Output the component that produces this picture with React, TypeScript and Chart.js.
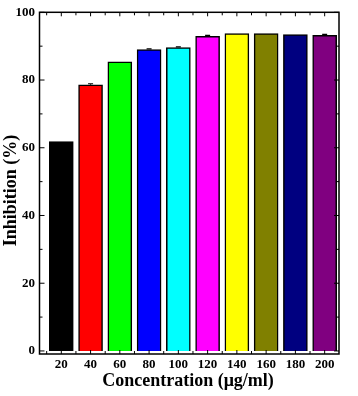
import React, { useEffect, useRef } from "react";
import { Chart, registerables } from "chart.js";

Chart.register(...registerables);

const concentrations = [20, 40, 60, 80, 100, 120, 140, 160, 180, 200];
const inhibition = [61.8, 78.6, 85.4, 89.0, 89.6, 92.9, 93.7, 93.7, 93.4, 93.2];
const errors = [0, 0.3, 0, 0.2, 0.2, 0.3, 0, 0, 0, 0.3];
const barColors = [
  "#000000", "#FF0000", "#00FF00", "#0000FF", "#00FFFF",
  "#FF00FF", "#FFFF00", "#808000", "#000080", "#800080",
];
const yTicks = [0, 20, 40, 60, 80, 100];
const yMinorTicks = [10, 30, 50, 70, 90];
const xMinorTicks = [10, 30, 50, 70, 90, 110, 130, 150, 170, 190];
const xTitle = "Concentration (μg/ml)";
const yTitle = "Inhibition (%)";

const FONT = "'Liberation Serif', 'Times New Roman', serif";

const decorPlugin = {
  id: "decor",
  afterDatasetsDraw(chart: any) {
    const { ctx, chartArea, scales } = chart;
    const xs = scales.x;
    const ys = scales.y;
    ctx.save();
    // error bars
    ctx.strokeStyle = "#000";
    ctx.lineWidth = 1.2;
    concentrations.forEach((c, i) => {
      if (!errors[i]) return;
      const x = xs.getPixelForValue(c);
      const y0 = ys.getPixelForValue(inhibition[i]);
      const y1 = ys.getPixelForValue(inhibition[i] + errors[i]);
      ctx.beginPath();
      ctx.moveTo(x, y0);
      ctx.lineTo(x, y1);
      ctx.moveTo(x - 2.5, y1);
      ctx.lineTo(x + 2.5, y1);
      ctx.stroke();
    });
    // frame
    ctx.lineWidth = 1.5;
    ctx.strokeRect(chartArea.left, chartArea.top, chartArea.right - chartArea.left, chartArea.bottom - chartArea.top);
    // ticks
    ctx.lineWidth = 1;
    const hTick = (v: number, len: number) => {
      const y = ys.getPixelForValue(v);
      ctx.beginPath();
      ctx.moveTo(chartArea.left, y);
      ctx.lineTo(chartArea.left + len, y);
      ctx.moveTo(chartArea.right, y);
      ctx.lineTo(chartArea.right - len, y);
      ctx.stroke();
    };
    yTicks.forEach((v) => hTick(v, 5));
    yMinorTicks.forEach((v) => hTick(v, 3));
    const vTick = (v: number, len: number) => {
      const x = xs.getPixelForValue(v);
      ctx.beginPath();
      ctx.moveTo(x, chartArea.bottom);
      ctx.lineTo(x, chartArea.bottom - len);
      ctx.moveTo(x, chartArea.top);
      ctx.lineTo(x, chartArea.top + len);
      ctx.stroke();
    };
    concentrations.forEach((v) => vTick(v, 4));
    xMinorTicks.forEach((v) => vTick(v, 3));
    // titles
    ctx.fillStyle = "#000";
    ctx.font = `bold 18px ${FONT}`;
    ctx.textAlign = "center";
    ctx.textBaseline = "middle";
    ctx.fillText(xTitle, 188, 381);
    ctx.translate(11, 190.5);
    ctx.rotate(-Math.PI / 2);
    ctx.fillText(yTitle, 0, 0);
    ctx.restore();
  },
};

export default function App() {
  const ref = useRef<HTMLCanvasElement>(null);
  useEffect(() => {
    const chart = new Chart(ref.current!, {
      type: "bar",
      data: {
        datasets: [
          {
            data: concentrations.map((c, i) => ({ x: c, y: inhibition[i] })),
            backgroundColor: barColors,
            borderColor: "#000",
            borderWidth: 1.5,
            barThickness: 24,
          },
        ],
      },
      options: {
        animation: false,
        responsive: false,
        maintainAspectRatio: false,
        layout: { padding: { left: 0, top: 12, right: 19, bottom: 0 } },
        plugins: { legend: { display: false }, tooltip: { enabled: false } },
        scales: {
          x: {
            type: "linear",
            offset: false,
            min: 5.1,
            max: 209.8,
            grid: { display: false, drawTicks: false },
            border: { display: false },
            afterBuildTicks: (s: any) => {
              s.ticks = concentrations.map((v) => ({ value: v }));
            },
            afterFit: (s: any) => {
              s.height = 42;
            },
            ticks: {
              autoSkip: false,
              maxRotation: 0,
              padding: 3,
              color: "#000",
              font: { family: FONT, size: 13, weight: "bold" },
              callback: (v: any) => String(v),
            },
          },
          y: {
            type: "linear",
            min: -0.9,
            max: 100,
            grid: { display: false, drawTicks: false },
            border: { display: false },
            afterBuildTicks: (s: any) => {
              s.ticks = yTicks.map((v) => ({ value: v }));
            },
            afterFit: (s: any) => {
              s.width = 39.5;
            },
            ticks: {
              padding: 4.5,
              color: "#000",
              font: { family: FONT, size: 13, weight: "bold" },
            },
          },
        },
      },
      plugins: [decorPlugin],
    } as any);
    return () => chart.destroy();
  }, []);
  return (
    <div style={{ position: "fixed", left: 0, top: 0, width: 358, height: 396, background: "#fff" }}>
      <canvas ref={ref} width={358} height={396} style={{ display: "block", width: 358, height: 396 }} />
    </div>
  );
}
